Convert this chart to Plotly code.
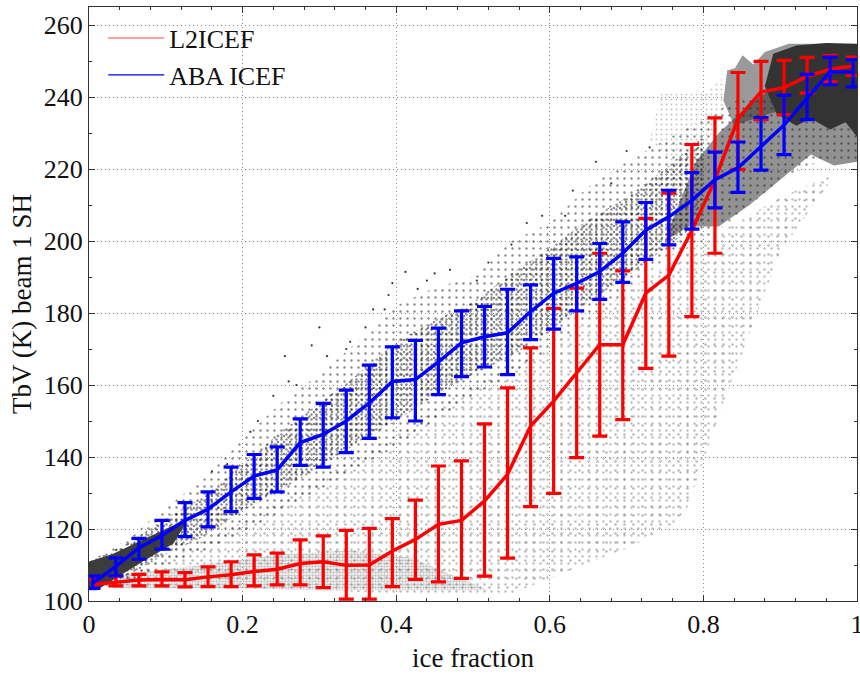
import plotly.graph_objects as go

ice_x = [0.005,0.035,0.065,0.095,0.125,0.155,0.185,0.215,0.245,0.275,0.305,0.335,0.365,0.395,0.425,0.455,0.485,
         0.515,0.545,0.575,0.605,0.635,0.665,0.695,0.725,0.755,0.785,0.815,0.845,0.875,0.905,0.935,0.965,0.995]

red_mean = [104.6,105.1,105.8,106,105.9,106.7,107.3,108.2,108.8,110.4,110.9,109.9,110,113.9,117.1,121.3,122.4,
            127.8,135.2,148.6,155.5,163.4,171.2,171.2,185.5,190.5,203,216.9,234,241.4,242.6,245.7,247.7,248.6]
red_hi = [106,107,107.4,108.1,107.9,109.5,110.9,112.8,113.3,117,118.1,119.6,120.2,122.9,128,137.5,138.9,
          149.2,159.2,170.3,181.3,186.9,196.6,191.7,206.3,213.3,226.8,234.2,246.8,249.9,250.2,251,251.6,251.1]
red_lo = [103.6,104.2,104.2,104.2,103.9,104,104,104.2,104.5,104.5,103.7,100.5,100.5,104,106,105.3,106.3,
          106.9,111.9,126.2,129.9,139.8,145.8,150.4,164.6,168,179,196.6,219.9,233.7,235.1,241.1,244.2,246]

blue_mean = [105,109.6,114.8,118.2,122.4,125.5,130.3,134.7,136.4,144,146.3,150,155,161,161.5,166.4,171.7,
             173.4,174.5,180.4,185.5,188.2,191.5,196.6,203,206.7,211.3,217,220.3,226.4,232.2,239.6,247.1,246.9]
blue_hi = [107,112,117.4,122.4,127.3,130.3,137.2,140.7,142.8,150.6,154.9,158.6,165.5,170.6,172.4,175.8,180.6,
           181.8,186.6,187.8,195.2,195.6,199.3,205.3,210.7,214.1,219,224.7,227.5,234.3,240.5,246.3,251.1,250.4]
blue_lo = [103.5,107,111.6,114.4,117.9,120.6,124.8,128.5,130.3,137.7,137.2,141.2,145.2,150.9,150,157.3,162.3,
           165,162.9,172.6,175.5,180.6,183.8,188.5,194.9,198.9,203.3,209.2,213.5,219.7,224,233.7,243.4,242.8]

# Cloud outlines
black_outer_x = [0,0.05,0.1,0.15,0.2,0.25,0.3,0.35,0.4,0.45,0.5,0.55,0.6,0.65,0.7,0.75,0.8,0.85,
                 1,1,0.95,0.9,0.85,0.8,0.75,0.7,0.65,0.6,0.55,0.5,0.45,0.4,0.35,0.3,0.25,0.2,0.15,0.1,0.05,0]
black_outer_y = [111,117,126,134,145,155,163,172,182,187,190,200,205,215,222,228,234,240,
                 240,222,222,217,208,200,195,186,178,170,163,157,150,143,137,131,125,119,114,110,105,103]
black_band_x = [0,0.05,0.1,0.15,0.2,0.25,0.3,0.35,0.4,0.45,0.5,0.55,0.6,0.65,0.7,0.75,0.8,
                0.8,0.75,0.7,0.65,0.6,0.55,0.5,0.45,0.4,0.35,0.3,0.25,0.2,0.15,0.1,0.05,0]
black_band_y = [111,116,123,129,138,147,155,163,172,178,183,191,198,206,212,220,229,
                206,198,190,183,175,168,163,157,150,144,137,131,125,118,113,107,103]
dense_low_x = [0,0.03,0.07,0.1,0.13,0.11,0.07,0.04,0.01,0]
dense_low_y = [111,113,117,120,123,116,111,107,103,103]
dense_high_x = [0.76,0.79,0.82,0.86,0.9,0.95,1,1,0.97,0.94,0.9,0.86,0.82,0.78,0.75]
dense_high_y = [206,222,230,238,244,244,244,222,221,224,217,210,204,204,200]
dark_top_x = [0.891,0.905,0.921,0.96,1,1,0.985,0.965,0.94,0.921,0.895,0.88]
dark_top_y = [252,253,254.3,255,254.8,229,233,231,234,232,235.4,243]
grey_top_x = [0.826,0.831,0.841,0.851,0.865,0.88,0.911,0.965,0.965,0.88,0.84]
grey_top_y = [239,247.4,248,251.6,249,252.5,254.8,254.8,240,235,232]
grey_low_x = [0.03,0.3,0.4,0.55,0.62,0.705,0.774,0.826,0.844,0.9,0.974,0.9,0.8,0.7,0.6,0.5,0.4,0.3,0.2,0.1,0.03]
grey_low_y = [104,103,102,102,108,115,123,155,165,197,219,212,200,186,170,160,146,134,122,112,105]
grey_band_x = [0.03,0.1,0.2,0.3,0.37,0.45,0.52,0.42,0.34,0.25,0.15,0.06,0.03]
grey_band_y = [103.5,103.5,103.5,103,103,103,103,112,114,113,110,108,106]
grey_upper_x = [0.73,0.745,0.8,0.83,0.83,0.8,0.76]
grey_upper_y = [228,241,241,246,238,225,222]

outlier_x = [0.395,0.412,0.428,0.37,0.385,0.29,0.3,0.255,0.24,0.45,0.505,0.55,0.59,0.68,0.66,0.73,0.335,0.26,0.21,0.18,
             0.34,0.36,0.44,0.52,0.57,0.63,0.62,0.7,0.16,0.22,0.27,0.31,0.39,0.47]
outlier_y = [188.3,191.4,186.7,181,181,171,176,168,157,191,189,199,207,216,222,226,170,161,147,138,
             172,176,189,194,205,214,207,225,136,150,160,168,185,192]

tick_x = [0, 0.2, 0.4, 0.6, 0.8, 1]
tick_x_text = ["0", "0.2", "0.4", "0.6", "0.8", "1"]
tick_y = [100, 120, 140, 160, 180, 200, 220, 240, 260]

FONT = "Liberation Serif"
fig = go.Figure()

def cloud(xs, ys, color, shape, size, solidity, bg="rgba(0,0,0,0)"):
    fig.add_trace(go.Scatter(
        x=xs, y=ys, mode="lines", fill="toself", line=dict(width=0), showlegend=False, hoverinfo="skip",
        fillcolor="rgba(0,0,0,0)",
        fillpattern=dict(shape=shape, size=size, solidity=solidity, fgcolor=color, bgcolor=bg)))

cloud(grey_low_x, grey_low_y, "#777777", ".", 7, 0.09)
cloud(grey_low_x, grey_low_y, "#777777", ".", 9, 0.07)
cloud(grey_upper_x, grey_upper_y, "#888888", ".", 5, 0.12)
cloud(grey_band_x, grey_band_y, "#8a8a8a", ".", 3, 0.55)
cloud(grey_top_x, grey_top_y, "#9a9a9a", ".", 2, 1.0, "#9a9a9a")
cloud(black_outer_x, black_outer_y, "#111111", ".", 7, 0.09)
cloud(black_band_x, black_band_y, "#111111", ".", 5, 0.18)
cloud(black_band_x, black_band_y, "#111111", ".", 6, 0.14)
cloud(dense_low_x, dense_low_y, "#333333", ".", 2, 1.0, "#444444")
cloud(dense_high_x, dense_high_y, "#222222", ".", 3, 0.9)
cloud(dark_top_x, dark_top_y, "#333333", ".", 2, 1.0, "#333333")

fig.add_trace(go.Scatter(x=outlier_x, y=outlier_y, mode="markers", showlegend=False, hoverinfo="skip",
                         marker=dict(size=2.2, color="#333333")))

def errs(mean, hi, lo, color):
    return dict(type="data", symmetric=False,
                array=[h - m for h, m in zip(hi, mean)],
                arrayminus=[m - l for m, l in zip(mean, lo)],
                color=color, thickness=3.2, width=7.5)

fig.add_trace(go.Scatter(x=ice_x, y=red_mean, mode="lines", line=dict(color="#ff0000", width=3.5),
                         error_y=errs(red_mean, red_hi, red_lo, "#ff0000"), showlegend=False))
fig.add_trace(go.Scatter(x=ice_x, y=blue_mean, mode="lines", line=dict(color="#0000ff", width=3.5),
                         error_y=errs(blue_mean, blue_hi, blue_lo, "#0000ff"), showlegend=False))

fig.add_trace(go.Scatter(x=[None], y=[None], mode="lines", name="L2ICEF", line=dict(color="#ff8080", width=1.5)))
fig.add_trace(go.Scatter(x=[None], y=[None], mode="lines", name="ABA ICEF", line=dict(color="#0000ff", width=1.2)))

axis_common = dict(showline=True, linecolor="#333333", linewidth=1.2, mirror="allticks", ticks="inside", ticklen=6,
                   tickcolor="#333333", tickwidth=1, showgrid=True, gridcolor="#8c8c8c", griddash="1px,3px", gridwidth=1,
                   zeroline=False, automargin=False, tickfont=dict(family=FONT, size=26, color="#111111"))
fig.update_xaxes(range=[0, 1], tickvals=tick_x, ticktext=tick_x_text, ticklabeloverflow="allow",
                 minor=dict(dtick=0.04, ticks="inside", ticklen=3, tickcolor="#333333", showgrid=False),
                 title=dict(text="ice fraction", font=dict(family=FONT, size=27, color="#111111"), standoff=9),
                 **axis_common)
fig.update_yaxes(range=[100, 265], tickvals=tick_y,
                 minor=dict(dtick=10, ticks="inside", ticklen=3, tickcolor="#333333", showgrid=False),
                 title=dict(text="TbV (K) beam 1 SH", font=dict(family=FONT, size=27, color="#111111"), standoff=4),
                 **axis_common)
fig.update_layout(width=860, height=676, margin=dict(l=89, r=3, t=7, b=75), plot_bgcolor="white", paper_bgcolor="white",
                  font=dict(family=FONT),
                  legend=dict(x=0.0185, y=0.987, xanchor="left", yanchor="top", bgcolor="rgba(0,0,0,0)",
                              itemwidth=56, font=dict(family=FONT, size=26, color="#111111")))
fig.write_html("out.html", config={"displayModeBar": False},
               post_script="document.body.style.margin='0';document.body.style.overflow='hidden';")
